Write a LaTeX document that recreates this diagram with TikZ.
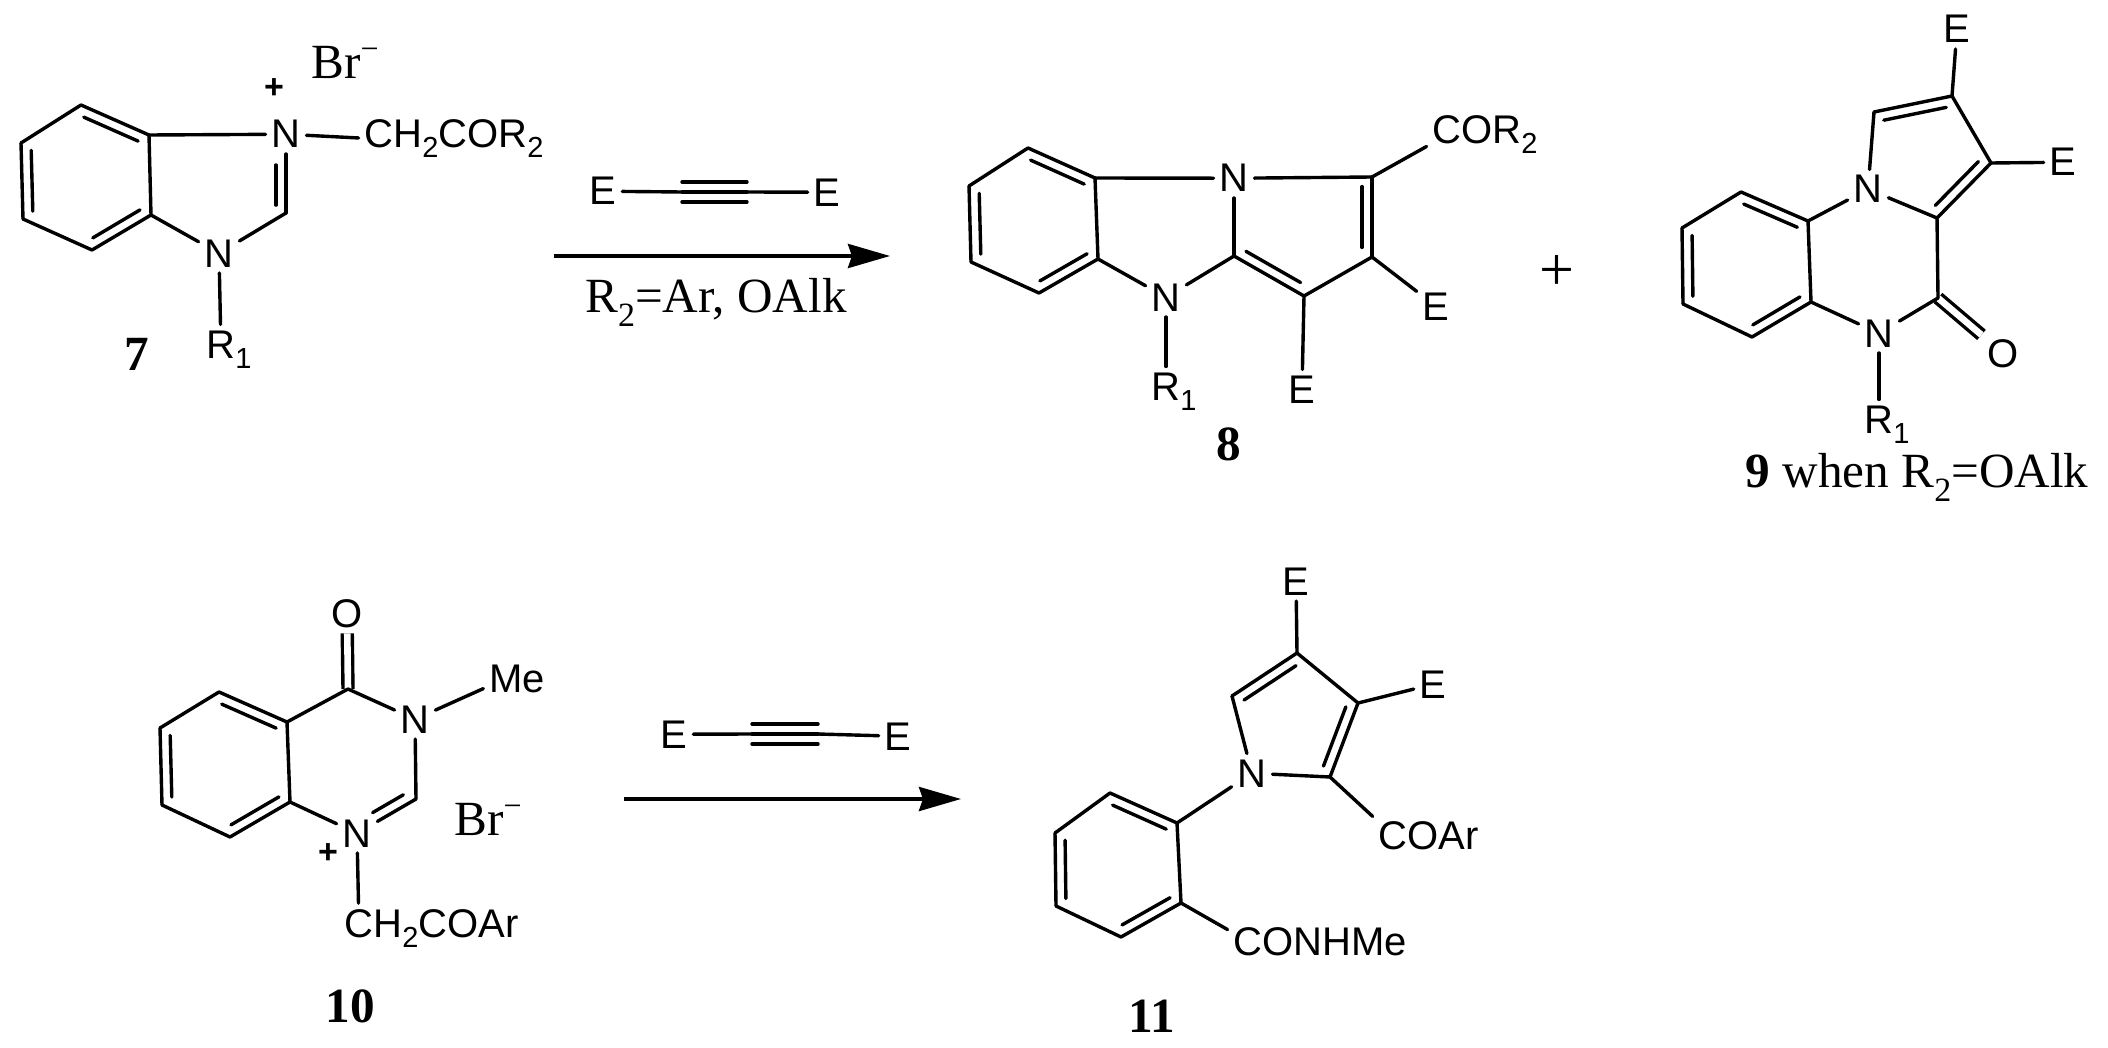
\documentclass[tikz,border=0pt]{standalone}
\usepackage{fontspec}
\setmainfont{Liberation Serif}
\setsansfont{Liberation Sans}
\usetikzlibrary{arrows.meta,calc}
\tikzstyle{atom}=[font=\sffamily\fontsize{20}{22}\selectfont,anchor=base,inner sep=0pt,outer sep=3pt]
\tikzstyle{charge}=[font=\sffamily\bfseries\fontsize{17}{19}\selectfont,inner sep=0pt]
\tikzstyle{txt}=[font=\fontsize{24.6}{27}\selectfont,anchor=base,inner sep=0pt]
\tikzstyle{bond}=[draw,line width=1.7pt,line cap=round,-]
\tikzstyle{carbonyl}=[draw,line width=1.7pt,double,double distance=3.3pt,-]
\tikzstyle{reaction}=[draw,line width=1.9pt,-{Stealth[length=21pt,width=12pt,inset=2pt]}]
\newcommand{\sbs}[1]{\raisebox{-0.25em}{\fontsize{14.5}{15}\selectfont #1}}
\newcommand{\tsbs}[1]{\raisebox{-0.3em}{\fontsize{17}{17}\selectfont #1}}
\newcommand{\minuscharge}{\raisebox{9.5pt}{\fontsize{16}{16}\selectfont −}}
\newcommand{\innerbond}[4]{\path[bond] ($(#1)!#3!(#2)!5pt!90:(#2)$) -- ($(#2)!#4!(#1)!5pt!-90:(#1)$);}
\begin{document}
\begin{tikzpicture}[x=0.5pt,y=-0.5pt]
    \path[use as bounding box] (0,0) rectangle (2108,1048);
    % First the carbon vertices, each benzene ring is a..f clockwise from the top
    \foreach \pos/\name in {{(81,105)/7a}, {(149,135)/7b}, {(151,215)/7c}, {(92,250)/7d}, {(23,219)/7e}, {(21,143)/7f}, {(286,213)/7g},
        {(1028,148)/8a}, {(1095,178)/8b}, {(1098,259)/8c}, {(1039,293)/8d}, {(971,262)/8e}, {(969,186)/8f}, {(1234,256)/8g}, {(1304,296)/8h}, {(1372,257)/8i}, {(1372,177)/8j},
        {(1741,192)/9a}, {(1808,221)/9b}, {(1811,302)/9c}, {(1752,337)/9d}, {(1683,304)/9e}, {(1682,228)/9f}, {(1938,298)/9g}, {(1937,218)/9h}, {(1991,163)/9i}, {(1952,96)/9j}, {(1874,112)/9k},
        {(219,692)/10a}, {(287,722)/10b}, {(290,802)/10c}, {(230,837)/10d}, {(162,805)/10e}, {(160,728)/10f}, {(348,689)/10g}, {(416,799)/10h},
        {(1110,793)/11a}, {(1177,823)/11b}, {(1181,903)/11c}, {(1121,937)/11d}, {(1056,906)/11e}, {(1055,833)/11f}, {(1330,777)/11g}, {(1358,703)/11h}, {(1297,653)/11i}, {(1232,696)/11j},
        {(682,192)/t1a}, {(747,192)/t1b}, {(752,734)/t2a}, {(818,734)/t2b},
        {(554,256)/a1s}, {(890,256)/a1e}, {(624,799)/a2s}, {(961,799)/a2e}}
        \node[coordinate] (\name) at \pos {};
    % Atom labels, the box of each one is only its first letter
    \foreach \pos/\name/\txt in {{(286,148)/n7a/N}, {(219,267)/n7b/N}, {(221,358)/r7/R\rlap{\sbs{1}}}, {(379,148)/ch7/C\rlap{H\sbs{2}COR\sbs{2}}},
        {(1234,192)/n8a/N}, {(1166,311)/n8b/N}, {(1166,400)/r8/R\rlap{\sbs{1}}}, {(1447,144)/cor8/C\rlap{OR\sbs{2}}}, {(1436,320)/e8a/E}, {(1302,403)/e8b/E},
        {(1868,203)/n9a/N}, {(1879,347)/n9b/N}, {(1879,433)/r9/R\rlap{\sbs{1}}}, {(2003,367)/o9/O}, {(1957,43)/e9a/E}, {(2063,176)/e9b/E},
        {(415,733)/n10a/N}, {(357,847)/n10b/N}, {(347,627)/o10/O}, {(506,692)/me10/M\rlap{e}}, {(359,937)/ch10/C\rlap{H\sbs{2}COAr}},
        {(1252,787)/n11/N}, {(1296,595)/e11a/E}, {(1433,698)/e11b/E}, {(1393,849)/co11/C\rlap{OAr}}, {(1248,955)/con11/C\rlap{ONHMe}},
        {(603,205)/e1a/E}, {(827,206)/e1b/E}, {(674,748)/e2a/E}, {(898,750)/e2b/E}}
        \node[atom] (\name) at \pos {\txt};
    % Printed text
    \foreach \pos/\name/\txt in {{(137,370)/cpd7/\bfseries 7}, {(1229,460)/cpd8/\bfseries 8}, {(350,1022)/cpd10/\bfseries 10}, {(1152,1032)/cpd11/\bfseries 11},
        {(1917,487)/cpd9/{\bfseries 9} when R\tsbs{2}=OAlk}, {(716,312)/cond1/R\tsbs{2}=Ar, OAlk},
        {(345,79)/br7/Br\minuscharge}, {(488,835)/br10/Br\minuscharge}}
        \node[txt] (\name) at \pos {\txt};
    \node[charge] (plus7) at (274,89) {+};
    \node[charge] (plus10) at (328,854) {+};
    \node[txt,anchor=center,font=\fontsize{31}{33}\selectfont] (plus8) at (1557,273) {+};
    % C=O bonds go first, their white core must not cover the ring
    \foreach \source/\dest in {9g/o9, 10g/o10}
        \path[carbonyl] (\source) -- (\dest);
    % Benzene rings
    \foreach \m in {7,8,9,10,11} {
        \foreach \source/\dest in {a/b, b/c, c/d, d/e, e/f, f/a}
            \path[bond] (\m\source) -- (\m\dest);
        \foreach \source/\dest in {b/a, d/c, f/e} {
            \innerbond{\m\source}{\m\dest}{0.1}{0.1}
        }
    }
    % Connect the rest
    \foreach \source/\dest in {7b/n7a, n7a/ch7, n7a/7g, 7g/n7b, n7b/7c, n7b/r7,
        8b/n8a, n8a/8j, n8a/8g, 8g/8h, 8h/8i, 8i/8j, 8g/n8b, n8b/8c, n8b/r8, 8j/cor8, 8i/e8a, 8h/e8b,
        9b/n9a, 9c/n9b, n9b/9g, 9g/9h, 9h/n9a, n9a/9k, 9k/9j, 9j/9i, 9i/9h, 9j/e9a, 9i/e9b, n9b/r9,
        10b/10g, 10g/n10a, n10a/me10, n10a/10h, 10h/n10b, n10b/10c, n10b/ch10,
        11b/n11, n11/11g, 11g/11h, 11h/11i, 11i/11j, 11j/n11, 11h/e11b, 11i/e11a, 11g/co11, 11c/con11,
        e1a/t1a, t1a/t1b, t1b/e1b, e2a/t2a, t2a/t2b, t2b/e2b}
        \path[bond] (\source) -- (\dest);
    % Second lines of the double bonds, always on the left going source to dest
    \foreach \source/\dest/\fa/\fb in {7g/n7a/0.1/0.39, 8i/8j/0.12/0.12, 8g/8h/0.1/0.12, 9j/9k/0.1/0.1, 9h/9i/0.1/0.1, n10b/10h/0.35/0.13, 11g/11h/0.1/0.1, 11i/11j/0.1/0.1} {
        \innerbond{\source}{\dest}{\fa}{\fb}
    }
    % Triple bonds
    \foreach \source/\dest in {t1a/t1b, t2a/t2b} {
        \innerbond{\source}{\dest}{0}{0}
        \innerbond{\dest}{\source}{0}{0}
    }
    % Reaction arrows
    \foreach \source/\dest in {a1s/a1e, a2s/a2e}
        \path[reaction] (\source) -- (\dest);
\end{tikzpicture}
\end{document}
